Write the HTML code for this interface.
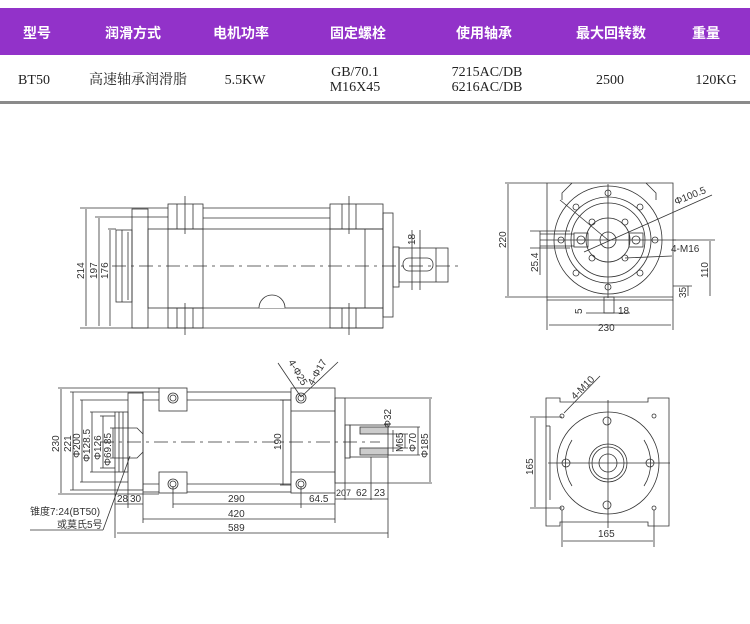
<!DOCTYPE html>
<html><head><meta charset="utf-8"><style>
body{margin:0;width:750px;height:624px;background:#fff;overflow:hidden;font-family:"Liberation Sans","Noto Sans CJK SC",sans-serif}
.hd{position:absolute;left:0;top:8px;width:750px;height:47px;background:#9232c9}
.hd span{position:absolute;top:15px;color:#fff;font-weight:bold;font-size:14px;transform:translateX(-50%)}
.rw span{position:absolute;color:#222;font-family:"Liberation Serif","Noto Serif CJK SC",serif;font-size:14px;text-align:center;line-height:15px;transform:translateX(-50%)}
.ln{position:absolute;left:0;top:101px;width:750px;height:3px;background:#8a8a8a}
svg{position:absolute;left:0;top:0}
</style></head><body>
<div class="hd">
<span style="left:37px">型号</span><span style="left:133px">润滑方式</span><span style="left:241px">电机功率</span><span style="left:358px">固定螺栓</span><span style="left:484px">使用轴承</span><span style="left:611px">最大回转数</span><span style="left:706px">重量</span>
</div>
<div class="rw">
<span style="left:34px;top:73px">BT50</span><span style="left:138px;top:73px">高速轴承润滑脂</span><span style="left:245px;top:73px">5.5KW</span><span style="left:355px;top:65px">GB/70.1<br>M16X45</span><span style="left:487px;top:65px">7215AC/DB<br>6216AC/DB</span><span style="left:610px;top:73px">2500</span><span style="left:716px;top:73px">120KG</span>
</div>
<div class="ln"></div>
<svg width="750" height="624" viewBox="0 0 750 624" font-family="Liberation Sans, Noto Sans CJK SC, sans-serif" font-size="10" fill="none" stroke="#333" stroke-width="0.8">
<!-- top-left view -->
<g>
<line x1="80" y1="208" x2="168" y2="208"/><line x1="95" y1="217" x2="168" y2="217"/><line x1="108" y1="229" x2="116" y2="229"/>
<line x1="80" y1="328" x2="383" y2="328"/>
<line x1="86" y1="209" x2="86" y2="326"/><line x1="99" y1="218" x2="99" y2="326"/><line x1="110" y1="230" x2="110" y2="326"/>
<rect x="132" y="209" width="16" height="119"/>
<rect x="116" y="230" width="16" height="72"/><line x1="122" y1="230" x2="122" y2="302"/><line x1="128" y1="232" x2="128" y2="300"/>
<rect x="148" y="229" width="235" height="79"/>
<rect x="168" y="204" width="35" height="25"/><rect x="330" y="204" width="53" height="25"/>
<rect x="168" y="308" width="35" height="20"/><rect x="330" y="308" width="53" height="20"/>
<line x1="203" y1="208" x2="330" y2="208"/><line x1="203" y1="218" x2="330" y2="218"/>
<line x1="168" y1="229" x2="168" y2="308"/><line x1="203" y1="229" x2="203" y2="308"/>
<line x1="330" y1="229" x2="330" y2="308"/><line x1="365" y1="229" x2="365" y2="308"/>
<line x1="177" y1="204" x2="177" y2="229"/><line x1="193" y1="204" x2="193" y2="229"/><line x1="342" y1="204" x2="342" y2="229"/><line x1="356" y1="204" x2="356" y2="229"/>
<line x1="177" y1="308" x2="177" y2="328"/><line x1="193" y1="308" x2="193" y2="328"/><line x1="342" y1="308" x2="342" y2="328"/><line x1="356" y1="308" x2="356" y2="328"/>
<line x1="185" y1="196" x2="185" y2="234"/><line x1="349" y1="196" x2="349" y2="234"/><line x1="185" y1="303" x2="185" y2="335"/><line x1="349" y1="303" x2="349" y2="335"/>
<path d="M259 308 A13 13 0 0 1 285 308" fill="#fff"/>
<rect x="383" y="213" width="10" height="104"/>
<rect x="393" y="247" width="6" height="40"/><rect x="399" y="248" width="49" height="34"/>
<line x1="436" y1="248" x2="436" y2="282"/>
<rect x="403" y="258" width="30" height="13" rx="6"/>
<line x1="412" y1="230" x2="412" y2="290"/><line x1="420" y1="230" x2="420" y2="290"/>
<line x1="112" y1="266" x2="460" y2="266" stroke-dasharray="14 5 3 5"/>
</g>
<g fill="#333" stroke="none">
<text transform="translate(84 279) rotate(-90)">214</text>
<text transform="translate(97 279) rotate(-90)">197</text>
<text transform="translate(108 279) rotate(-90)">176</text>
<text transform="translate(415 245) rotate(-90)">18</text>
</g>
<!-- top-right view -->
<g>
<line x1="505" y1="183" x2="547" y2="183"/><line x1="505" y1="297" x2="673" y2="297"/>
<line x1="508" y1="184" x2="508" y2="296"/>
<path d="M547 183 H572 L562 193 L562 200 M547 183 V300 H673 V183 H646 L656 193 L656 200 M572 183 H646"/>
<circle cx="608" cy="240" r="54"/><circle cx="608" cy="240" r="43"/><circle cx="608" cy="240" r="37"/><circle cx="608" cy="240" r="22"/><circle cx="608" cy="240" r="8"/>
<rect x="574" y="233" width="14" height="14"/><rect x="629" y="233" width="14" height="14"/>
<circle cx="581" cy="240" r="4"/><circle cx="636" cy="240" r="4"/>
<circle cx="608" cy="193" r="3"/><circle cx="608" cy="287" r="3"/><circle cx="561" cy="240" r="3"/><circle cx="655" cy="240" r="3"/>
<circle cx="576" cy="207" r="3"/><circle cx="640" cy="207" r="3"/><circle cx="576" cy="273" r="3"/><circle cx="640" cy="273" r="3"/>
<circle cx="592" cy="222" r="3"/><circle cx="625" cy="222" r="3"/><circle cx="592" cy="258" r="3"/><circle cx="625" cy="258" r="3"/>
<line x1="608" y1="184" x2="608" y2="298"/><line x1="540" y1="240" x2="676" y2="240"/>
<line x1="560" y1="200" x2="608" y2="240"/><line x1="584" y1="252" x2="712" y2="195"/>
<line x1="625" y1="258" x2="672" y2="256"/>
<line x1="540" y1="234" x2="574" y2="234"/><line x1="540" y1="246" x2="574" y2="246"/>
<line x1="530" y1="231" x2="570" y2="231"/><line x1="530" y1="248" x2="570" y2="248"/><line x1="540" y1="231" x2="540" y2="275"/>
<line x1="673" y1="240" x2="715" y2="240"/><line x1="673" y1="286" x2="692" y2="286"/>
<line x1="710" y1="241" x2="710" y2="296"/><line x1="688" y1="286" x2="688" y2="296"/>
<rect x="604" y="297" width="10" height="16"/>
<line x1="586" y1="313" x2="630" y2="313"/>
<line x1="547" y1="300" x2="547" y2="330"/><line x1="673" y1="300" x2="673" y2="330"/>
<line x1="549" y1="325" x2="671" y2="325"/>
</g>
<g fill="#333" stroke="none">
<text transform="translate(506 248) rotate(-90)">220</text>
<text transform="translate(538 272) rotate(-90)">25.4</text>
<text transform="translate(708 278) rotate(-90)">110</text>
<text transform="translate(686 298) rotate(-90)">35</text>
<text transform="translate(582 314) rotate(-90)">5</text>
<text x="618" y="314">18</text>
<text x="598" y="331">230</text>
<text x="671" y="252">4-M16</text>
<text transform="translate(676 205) rotate(-22)">Φ100.5</text>
</g>
<!-- bottom-left view -->
<g>
<line x1="58" y1="388" x2="159" y2="388"/><line x1="70" y1="392" x2="143" y2="392"/><line x1="80" y1="400" x2="128" y2="400"/>
<line x1="90" y1="412" x2="115" y2="412"/><line x1="100" y1="416" x2="115" y2="416"/><line x1="110" y1="428" x2="128" y2="428"/>
<line x1="58" y1="494" x2="159" y2="494"/><line x1="70" y1="490" x2="128" y2="490"/><line x1="80" y1="482" x2="128" y2="482"/>
<line x1="90" y1="472" x2="115" y2="472"/><line x1="100" y1="468" x2="115" y2="468"/><line x1="110" y1="458" x2="128" y2="458"/>
<line x1="61" y1="389" x2="61" y2="493"/><line x1="73" y1="392" x2="73" y2="490"/><line x1="82" y1="400" x2="82" y2="482"/>
<line x1="92" y1="412" x2="92" y2="472"/><line x1="103" y1="416" x2="103" y2="468"/><line x1="113" y1="428" x2="113" y2="458"/>
<rect x="128" y="393" width="15" height="97"/>
<rect x="115" y="412" width="13" height="60"/><line x1="119" y1="412" x2="119" y2="472"/><line x1="123" y1="412" x2="123" y2="472"/>
<path d="M128 428 L137 428 L143 434 M128 458 L137 458 L143 452"/>
<rect x="143" y="392" width="148" height="100"/>
<line x1="143" y1="400" x2="291" y2="400"/><line x1="143" y1="484" x2="291" y2="484"/>
<rect x="159" y="388" width="28" height="23" fill="#fff"/><rect x="159" y="472" width="28" height="21" fill="#fff"/>
<rect x="291" y="388" width="44" height="105" fill="#fff"/>
<line x1="291" y1="411" x2="335" y2="411"/><line x1="291" y1="472" x2="335" y2="472"/>
<circle cx="173" cy="398" r="5"/><circle cx="173" cy="398" r="3"/><circle cx="173" cy="484" r="5"/><circle cx="173" cy="484" r="3"/>
<circle cx="301" cy="398" r="5"/><circle cx="301" cy="398" r="3"/><circle cx="301" cy="484" r="5"/><circle cx="301" cy="484" r="3"/>
<rect x="335" y="398" width="10" height="85"/><rect x="345" y="425" width="5" height="33"/><rect x="350" y="425" width="38" height="32"/>
<rect x="360" y="427" width="28" height="7" fill="#ccc"/><rect x="360" y="448" width="28" height="7" fill="#ccc"/>
<line x1="345" y1="398" x2="432" y2="398"/><line x1="345" y1="483" x2="432" y2="483"/>
<line x1="388" y1="434" x2="408" y2="434"/><line x1="388" y1="448" x2="408" y2="448"/><line x1="388" y1="427" x2="420" y2="427"/><line x1="388" y1="455" x2="420" y2="455"/>
<line x1="393" y1="430" x2="393" y2="452"/><line x1="405" y1="434" x2="405" y2="448"/><line x1="418" y1="427" x2="418" y2="455"/><line x1="430" y1="399" x2="430" y2="482"/>
<line x1="100" y1="442" x2="380" y2="442" stroke-dasharray="14 5 3 5"/>
<line x1="283" y1="400" x2="283" y2="485"/><line x1="280" y1="400" x2="291" y2="400"/><line x1="280" y1="485" x2="291" y2="485"/>
<line x1="173" y1="486" x2="173" y2="508"/><line x1="301" y1="486" x2="301" y2="508"/>
<line x1="115" y1="472" x2="115" y2="538"/><line x1="128" y1="490" x2="128" y2="508"/><line x1="143" y1="492" x2="143" y2="523"/>
<line x1="335" y1="493" x2="335" y2="523"/><line x1="345" y1="483" x2="345" y2="500"/><line x1="388" y1="457" x2="388" y2="538"/>
<line x1="371" y1="457" x2="371" y2="500"/>
<line x1="115" y1="504" x2="143" y2="504"/><line x1="173" y1="504" x2="335" y2="504"/>
<line x1="143" y1="519" x2="335" y2="519"/><line x1="117" y1="533" x2="388" y2="533"/>
<line x1="335" y1="499" x2="388" y2="499"/>
<line x1="30" y1="530" x2="103" y2="530"/><line x1="103" y1="530" x2="130" y2="456"/>
<line x1="278" y1="363" x2="301" y2="397"/><line x1="338" y1="362" x2="301" y2="397"/>
</g>
<g fill="#333" stroke="none">
<text transform="translate(59 452) rotate(-90)">230</text>
<text transform="translate(71 452) rotate(-90)">221</text>
<text transform="translate(80 458) rotate(-90)">Φ200</text>
<text transform="translate(90 462) rotate(-90)">Φ128.5</text>
<text transform="translate(101 460) rotate(-90)">Φ126</text>
<text transform="translate(111 466) rotate(-90)">Φ69.85</text>
<text transform="translate(281 450) rotate(-90)">190</text>
<text transform="translate(391 428) rotate(-90)">Φ32</text>
<text transform="translate(403 452) rotate(-90)">M65</text>
<text transform="translate(416 452) rotate(-90)">Φ70</text>
<text transform="translate(428 458) rotate(-90)">Φ185</text>
<text x="117" y="502">28</text><text x="130" y="502">30</text>
<text x="228" y="502">290</text><text x="309" y="502">64.5</text>
<text x="228" y="517">420</text><text x="228" y="531">589</text>
<text x="336" y="496" font-size="9">207</text><text x="356" y="496">62</text><text x="374" y="496">23</text>
<text x="30" y="515">锥度7:24(BT50)</text><text x="57" y="528">或莫氏5号</text>
<text transform="translate(288 362) rotate(60)">4-Φ25</text>
<text transform="translate(313 386) rotate(-60)">4-Φ17</text>
</g>
<!-- bottom-right view -->
<g>
<path d="M546 398 H560 V402 H648 V398 H669 V526 H648 V522 H560 V526 H546 Z"/>
<line x1="546" y1="426" x2="550" y2="426"/><line x1="550" y1="426" x2="550" y2="500"/>
<circle cx="608" cy="463" r="51"/>
<path d="M572 440 A43 43 0 0 0 572 486 M644 440 A43 43 0 0 1 644 486"/>
<circle cx="608" cy="463" r="19"/><circle cx="608" cy="463" r="16"/><circle cx="608" cy="463" r="9"/>
<circle cx="607" cy="421" r="4"/><circle cx="607" cy="505" r="4"/><circle cx="566" cy="463" r="4"/><circle cx="650" cy="463" r="4"/>
<circle cx="562" cy="416" r="2"/><circle cx="654" cy="416" r="2"/><circle cx="562" cy="508" r="2"/><circle cx="654" cy="508" r="2"/>
<line x1="608" y1="400" x2="608" y2="528"/><line x1="548" y1="463" x2="670" y2="463"/>
<line x1="530" y1="417" x2="562" y2="417"/><line x1="530" y1="508" x2="562" y2="508"/><line x1="535" y1="418" x2="535" y2="507"/>
<line x1="562" y1="510" x2="562" y2="547"/><line x1="654" y1="510" x2="654" y2="547"/><line x1="563" y1="541" x2="653" y2="541"/>
<line x1="564" y1="413" x2="600" y2="376"/>
</g>
<g fill="#333" stroke="none">
<text transform="translate(533 475) rotate(-90)">165</text>
<text x="598" y="537">165</text>
<text transform="translate(575 400) rotate(-45)">4-M10</text>
</g>
</svg>
</body></html>
